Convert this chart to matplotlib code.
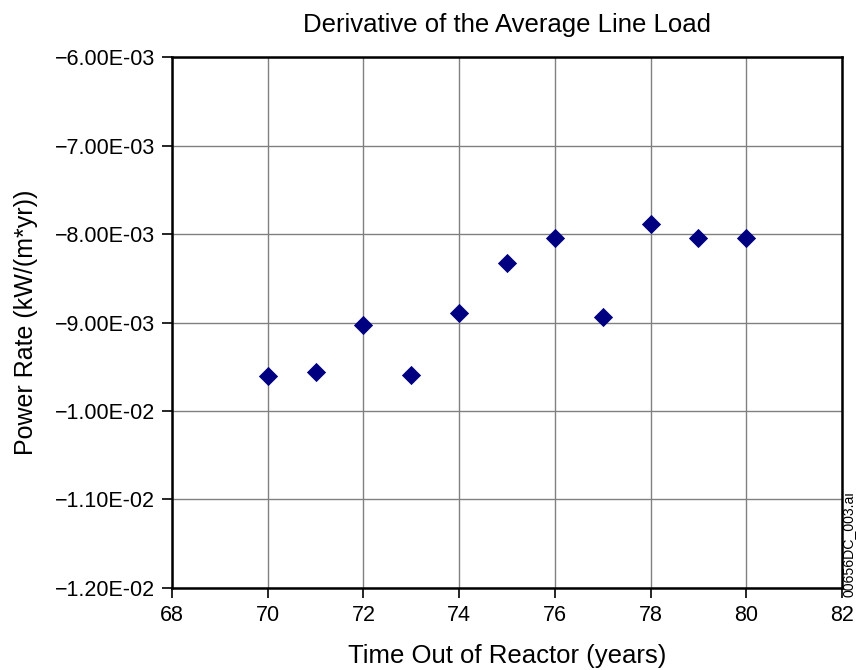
import matplotlib
matplotlib.use("Agg")
import matplotlib.pyplot as plt
from matplotlib.ticker import FuncFormatter, MultipleLocator

plt.rcParams['font.family'] = ['Liberation Sans', 'DejaVu Sans']

years = [70, 71, 72, 73, 74, 75, 76, 77, 78, 79, 80]
power_rate = [-9.61e-3, -9.56e-3, -9.03e-3, -9.59e-3, -8.89e-3, -8.33e-3,
              -8.04e-3, -8.94e-3, -7.89e-3, -8.04e-3, -8.04e-3]


def sci_fmt(v, pos):
    s = f"{abs(v):.2E}"
    return ("\u2212" + s) if v < 0 else s


fig = plt.figure(figsize=(8.58, 6.70), dpi=100)
ax = fig.add_axes([0.2005, 0.1224, 0.7809, 0.7925])

ax.scatter(years, power_rate, marker='D', s=96, color='#000080', zorder=3,
           linewidths=0)

ax.set_xlim(68, 82)
ax.set_ylim(-1.2e-2, -6e-3)
ax.xaxis.set_major_locator(MultipleLocator(2))
ax.yaxis.set_major_locator(MultipleLocator(1e-3))
ax.yaxis.set_major_formatter(FuncFormatter(sci_fmt))
ax.grid(True, color='#808080', linewidth=1.0)
ax.set_axisbelow(True)
for sp in ax.spines.values():
    sp.set_linewidth(1.8)
    sp.set_color('black')
ax.tick_params(direction='out', length=7, width=1.2, labelsize=15.5, pad=5)

ax.set_title("Derivative of the Average Line Load", fontsize=18.5, pad=18)
ax.set_xlabel("Time Out of Reactor (years)", fontsize=18.5, labelpad=13)
ax.set_ylabel("Power Rate (kW/(m*yr))", fontsize=18, labelpad=12)

fig.text(0.9895, 0.109, "00656DC_003.ai", rotation=90, fontsize=10.2,
         ha='center', va='bottom')

fig.savefig("out.png", dpi=100)
